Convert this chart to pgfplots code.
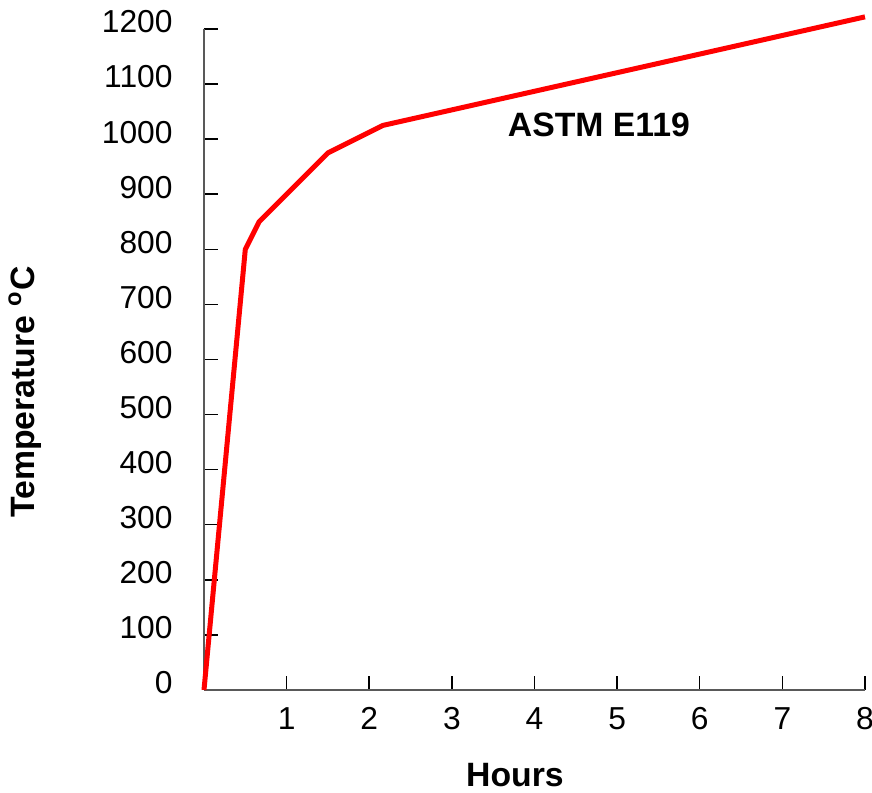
\documentclass[border=0pt]{standalone}
\usepackage{fontspec}
\setmainfont{Liberation Sans}
\usepackage{pgfplots}
\pgfplotsset{compat=1.18}

\newcommand{\lblfont}{\fontsize{12.7pt}{15pt}\selectfont}
\newcommand{\boldfont}{\fontsize{13.5pt}{16pt}\selectfont\bfseries}

\begin{document}
\begin{tikzpicture}
  \begin{axis}[
    scale only axis, width=264.4pt, height=264.4pt,
    xmin=0, xmax=8, ymin=0, ymax=1200,
    axis x line*=bottom, axis y line*=left,
    axis line style={-, draw=black!65, line width=0.9pt},
    xtick={1,...,8}, ytick={0,100,...,1200},
    tick align=inside, major tick length=5.6pt,
    tick style={black, line width=0.6pt},
    /pgf/number format/assume math mode=true,
    /pgf/number format/1000 sep={},
    tick label style={font=\lblfont},
    xticklabel style={anchor=north, inner sep=0pt, yshift=-6.8pt},
    yticklabel style={anchor=east, inner sep=0pt, xshift=-12.4pt, yshift=2.8pt},
    xlabel={Hours},
    ylabel={Temperature \textsuperscript{o}C},
    label style={font=\boldfont},
    xlabel style={at={(axis description cs:0.4705,-0.129)}, anchor=center},
    ylabel style={at={(axis description cs:-0.271,0.451)}, anchor=center, rotate=0},
    clip=false,
  ]
    \addplot[red, line width=2pt, line join=round] coordinates {
      (0,0) (0.5,800) (0.667,850) (1.5,975) (2.167,1025) (8,1222)
    };
    \node[font=\boldfont, anchor=center] at (axis cs:4.78,1025) {ASTM E119};
  \end{axis}
  \pgfresetboundingbox
  \useasboundingbox (-81.6pt,-41.2pt) rectangle (267.2pt,276pt);
\end{tikzpicture}
\end{document}
